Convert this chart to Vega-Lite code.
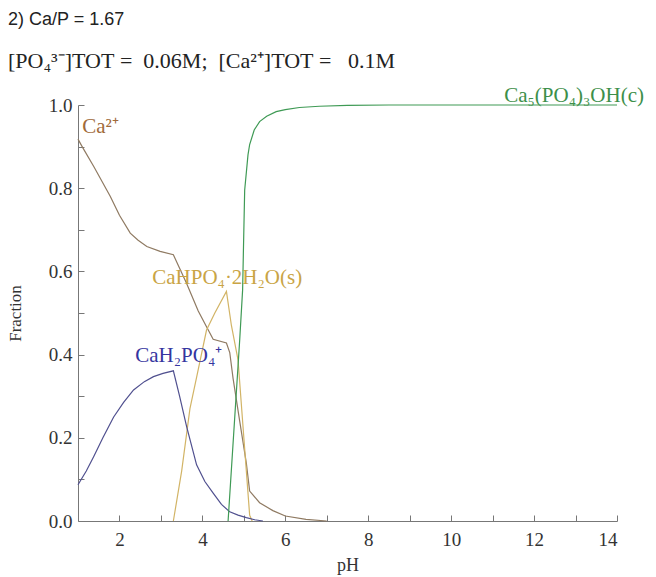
{
  "$schema": "https://vega.github.io/schema/vega-lite/v6.json",
  "width": 539,
  "height": 416,
  "autosize": {"type": "none"},
  "padding": {"left": 78, "top": 105, "right": 39, "bottom": 56},
  "background": "white",
  "title": {
    "text": "2) Ca/P = 1.67",
    "subtitle": "[PO₄³⁻]TOT\u00a0=\u00a0\u00a00.06M;\u00a0\u00a0[Ca²⁺]TOT\u00a0=\u00a0\u00a0\u00a00.1M",
    "anchor": "start",
    "frame": "group",
    "dx": -70,
    "offset": 13,
    "font": "Liberation Sans",
    "fontSize": 18,
    "fontWeight": "normal",
    "color": "#222",
    "subtitleFont": "Liberation Serif",
    "subtitleFontSize": 22,
    "subtitleColor": "#222",
    "subtitlePadding": 22
  },
  "config": {"view": {"stroke": null}},
  "datasets": {
    "curves": [
      {"s": "Ca", "pH": 1.0, "f": 0.918},
      {"s": "Ca", "pH": 1.1, "f": 0.9},
      {"s": "Ca", "pH": 1.38, "f": 0.852},
      {"s": "Ca", "pH": 1.78, "f": 0.78},
      {"s": "Ca", "pH": 2.0, "f": 0.735},
      {"s": "Ca", "pH": 2.26, "f": 0.692},
      {"s": "Ca", "pH": 2.45, "f": 0.675},
      {"s": "Ca", "pH": 2.66, "f": 0.66},
      {"s": "Ca", "pH": 2.98, "f": 0.648},
      {"s": "Ca", "pH": 3.3, "f": 0.64},
      {"s": "Ca", "pH": 3.62, "f": 0.571},
      {"s": "Ca", "pH": 3.9, "f": 0.505},
      {"s": "Ca", "pH": 4.1, "f": 0.467},
      {"s": "Ca", "pH": 4.26, "f": 0.437},
      {"s": "Ca", "pH": 4.58, "f": 0.428},
      {"s": "Ca", "pH": 4.66, "f": 0.405},
      {"s": "Ca", "pH": 4.74, "f": 0.343},
      {"s": "Ca", "pH": 4.9, "f": 0.24},
      {"s": "Ca", "pH": 5.06, "f": 0.139},
      {"s": "Ca", "pH": 5.14, "f": 0.072},
      {"s": "Ca", "pH": 5.38, "f": 0.044},
      {"s": "Ca", "pH": 5.7, "f": 0.025},
      {"s": "Ca", "pH": 6.0, "f": 0.012},
      {"s": "Ca", "pH": 6.5, "f": 0.004},
      {"s": "Ca", "pH": 7.0, "f": 0.0},
      {"s": "Y", "pH": 3.3, "f": 0.0},
      {"s": "Y", "pH": 3.5, "f": 0.12},
      {"s": "Y", "pH": 3.7, "f": 0.27},
      {"s": "Y", "pH": 3.86, "f": 0.345},
      {"s": "Y", "pH": 4.1, "f": 0.459},
      {"s": "Y", "pH": 4.3, "f": 0.5},
      {"s": "Y", "pH": 4.58, "f": 0.552},
      {"s": "Y", "pH": 4.7, "f": 0.47},
      {"s": "Y", "pH": 4.86, "f": 0.387},
      {"s": "Y", "pH": 5.0, "f": 0.2},
      {"s": "Y", "pH": 5.14, "f": 0.014},
      {"s": "Y", "pH": 5.2, "f": 0.0},
      {"s": "B", "pH": 1.0, "f": 0.087},
      {"s": "B", "pH": 1.2, "f": 0.12},
      {"s": "B", "pH": 1.38, "f": 0.155},
      {"s": "B", "pH": 1.6, "f": 0.2},
      {"s": "B", "pH": 1.86, "f": 0.25},
      {"s": "B", "pH": 2.1, "f": 0.285},
      {"s": "B", "pH": 2.34, "f": 0.315},
      {"s": "B", "pH": 2.6, "f": 0.335},
      {"s": "B", "pH": 2.82, "f": 0.347},
      {"s": "B", "pH": 3.05, "f": 0.355},
      {"s": "B", "pH": 3.3, "f": 0.361},
      {"s": "B", "pH": 3.45, "f": 0.3},
      {"s": "B", "pH": 3.62, "f": 0.227},
      {"s": "B", "pH": 3.86, "f": 0.135},
      {"s": "B", "pH": 4.06, "f": 0.095},
      {"s": "B", "pH": 4.26, "f": 0.067},
      {"s": "B", "pH": 4.46, "f": 0.04},
      {"s": "B", "pH": 4.66, "f": 0.022},
      {"s": "B", "pH": 4.86, "f": 0.014},
      {"s": "B", "pH": 5.06, "f": 0.008},
      {"s": "B", "pH": 5.26, "f": 0.003},
      {"s": "B", "pH": 5.46, "f": 0.0},
      {"s": "G", "pH": 4.62, "f": 0.0},
      {"s": "G", "pH": 4.9, "f": 0.435},
      {"s": "G", "pH": 4.97, "f": 0.555},
      {"s": "G", "pH": 5.02, "f": 0.795},
      {"s": "G", "pH": 5.1, "f": 0.88},
      {"s": "G", "pH": 5.14, "f": 0.905},
      {"s": "G", "pH": 5.25, "f": 0.94},
      {"s": "G", "pH": 5.38, "f": 0.96},
      {"s": "G", "pH": 5.55, "f": 0.973},
      {"s": "G", "pH": 5.78, "f": 0.984},
      {"s": "G", "pH": 6.0, "f": 0.989},
      {"s": "G", "pH": 6.34, "f": 0.994},
      {"s": "G", "pH": 6.82, "f": 0.997},
      {"s": "G", "pH": 7.5, "f": 0.999},
      {"s": "G", "pH": 8.5, "f": 1.0},
      {"s": "G", "pH": 14.0, "f": 1.0}
    ],
    "labels": [
      {"s": "Ca", "label": "Ca²⁺", "pH": 1.1, "f": 0.947},
      {"s": "Y", "label": "CaHPO₄·2H₂O(s)", "pH": 2.79, "f": 0.584},
      {"s": "B", "label": "CaH₂PO₄⁺", "pH": 2.38, "f": 0.397},
      {"s": "G", "label": "Ca₅(PO₄)₃OH(c)", "pH": 11.28, "f": 1.022}
    ]
  },
  "layer": [
    {
      "data": {"name": "curves"},
      "mark": {"type": "line", "strokeWidth": 1.2, "clip": false},
      "encoding": {
        "x": {
          "field": "pH", "type": "quantitative",
          "scale": {"domain": [1, 14], "nice": false, "zero": false},
          "axis": {
            "title": "pH",
            "values": [2, 3, 4, 5, 6, 7, 8, 9, 10, 11, 12, 13, 14],
            "labelExpr": "datum.value % 2 == 0 ? datum.label : ''",
            "grid": false,
            "tickSize": -6,
            "labelPadding": 15,
            "domainColor": "#777",
            "tickColor": "#777",
            "labelFont": "Liberation Serif",
            "labelFontSize": 19,
            "labelColor": "#333",
            "titleFont": "Liberation Serif",
            "titleFontSize": 18,
            "titleFontWeight": "normal",
            "titleColor": "#333",
            "titlePadding": 7
          }
        },
        "y": {
          "field": "f", "type": "quantitative",
          "scale": {"domain": [0, 1], "nice": false},
          "axis": {
            "title": "Fraction",
            "values": [0, 0.1, 0.2, 0.3, 0.4, 0.5, 0.6, 0.7, 0.8, 0.9, 1.0],
            "format": ".1f",
            "labelExpr": "round(datum.value * 10) % 2 == 0 ? datum.label : ''",
            "grid": false,
            "tickSize": -6,
            "labelPadding": 12,
            "domainColor": "#777",
            "tickColor": "#777",
            "labelFont": "Liberation Serif",
            "labelFontSize": 19,
            "labelColor": "#333",
            "titleFont": "Liberation Serif",
            "titleFontSize": 17,
            "titleFontWeight": "normal",
            "titleColor": "#333",
            "titlePadding": 24
          }
        },
        "color": {
          "field": "s", "type": "nominal", "legend": null,
          "scale": {"domain": ["Ca", "Y", "B", "G"], "range": ["#8f7a62", "#d2b466", "#50508f", "#3f9a55"]}
        },
        "detail": {"field": "s"}
      }
    },
    {
      "data": {"name": "labels"},
      "mark": {"type": "text", "align": "left", "baseline": "middle", "font": "Liberation Serif", "fontSize": 21},
      "encoding": {
        "x": {"field": "pH", "type": "quantitative"},
        "y": {"field": "f", "type": "quantitative"},
        "text": {"field": "label"},
        "color": {
          "field": "s", "type": "nominal", "legend": null,
          "scale": {"domain": ["Ca", "Y", "B", "G"], "range": ["#a06a3a", "#c9a445", "#3535a0", "#3d8f4a"]}
        }
      }
    }
  ],
  "resolve": {"scale": {"color": "independent"}}
}
